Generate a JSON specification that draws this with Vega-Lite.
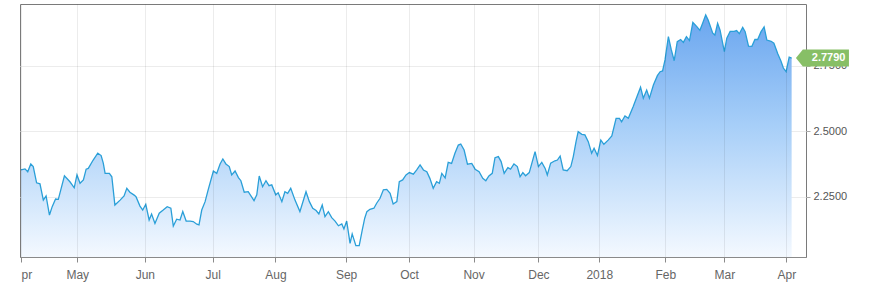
{
  "$schema": "https://vega.github.io/schema/vega-lite/v6.json",
  "width": 786,
  "height": 253,
  "autosize": {"type": "none"},
  "padding": {"left": 20, "top": 4, "right": 73, "bottom": 37},
  "background": "#ffffff",
  "config": {
    "view": {"stroke": "#7a7a7a", "strokeWidth": 1},
    "font": "Liberation Sans"
  },
  "datasets": {
    "yield": [
      {"t":0.0,"v":2.352},{"t":1.3,"v":2.356},{"t":2.2,"v":2.345},{"t":3.2,"v":2.375},{"t":4.0,"v":2.365},{"t":5.1,"v":2.303},{"t":6.2,"v":2.299},{"t":7.3,"v":2.237},{"t":8.2,"v":2.253},{"t":9.3,"v":2.180},{"t":10.2,"v":2.212},{"t":11.3,"v":2.241},{"t":12.2,"v":2.240},{"t":14.2,"v":2.330},{"t":16.0,"v":2.307},{"t":17.4,"v":2.284},{"t":18.3,"v":2.333},{"t":19.3,"v":2.301},{"t":20.4,"v":2.314},{"t":21.3,"v":2.355},{"t":22.0,"v":2.358},{"t":23.6,"v":2.390},{"t":25.1,"v":2.416},{"t":26.2,"v":2.407},{"t":26.9,"v":2.378},{"t":27.5,"v":2.339},{"t":28.9,"v":2.339},{"t":29.7,"v":2.326},{"t":30.7,"v":2.218},{"t":32.4,"v":2.237},{"t":33.7,"v":2.253},{"t":34.6,"v":2.282},{"t":35.6,"v":2.267},{"t":37.0,"v":2.256},{"t":37.6,"v":2.250},{"t":38.9,"v":2.214},{"t":39.8,"v":2.199},{"t":40.8,"v":2.221},{"t":41.9,"v":2.161},{"t":42.7,"v":2.184},{"t":43.8,"v":2.148},{"t":45.2,"v":2.187},{"t":46.5,"v":2.199},{"t":47.8,"v":2.212},{"t":49.0,"v":2.206},{"t":49.8,"v":2.138},{"t":50.9,"v":2.164},{"t":52.0,"v":2.161},{"t":52.9,"v":2.193},{"t":54.0,"v":2.157},{"t":55.3,"v":2.157},{"t":56.3,"v":2.155},{"t":57.5,"v":2.145},{"t":58.2,"v":2.142},{"t":59.1,"v":2.199},{"t":60.2,"v":2.231},{"t":61.2,"v":2.276},{"t":62.9,"v":2.348},{"t":64.0,"v":2.339},{"t":65.1,"v":2.375},{"t":66.0,"v":2.394},{"t":67.0,"v":2.375},{"t":68.1,"v":2.365},{"t":68.9,"v":2.333},{"t":70.0,"v":2.348},{"t":71.1,"v":2.323},{"t":71.9,"v":2.311},{"t":73.0,"v":2.267},{"t":74.3,"v":2.269},{"t":76.2,"v":2.235},{"t":77.1,"v":2.257},{"t":77.9,"v":2.329},{"t":79.0,"v":2.288},{"t":80.1,"v":2.311},{"t":81.1,"v":2.292},{"t":82.0,"v":2.295},{"t":83.3,"v":2.257},{"t":84.1,"v":2.265},{"t":85.3,"v":2.231},{"t":86.3,"v":2.269},{"t":87.2,"v":2.263},{"t":88.2,"v":2.282},{"t":89.6,"v":2.237},{"t":91.2,"v":2.193},{"t":93.2,"v":2.269},{"t":94.3,"v":2.231},{"t":95.4,"v":2.206},{"t":96.5,"v":2.197},{"t":97.4,"v":2.184},{"t":98.5,"v":2.218},{"t":99.4,"v":2.174},{"t":100.5,"v":2.193},{"t":101.6,"v":2.170},{"t":102.7,"v":2.157},{"t":103.8,"v":2.139},{"t":104.9,"v":2.146},{"t":105.6,"v":2.127},{"t":106.5,"v":2.157},{"t":107.6,"v":2.072},{"t":108.3,"v":2.108},{"t":109.5,"v":2.063},{"t":110.6,"v":2.063},{"t":111.6,"v":2.123},{"t":112.4,"v":2.168},{"t":113.1,"v":2.193},{"t":114.1,"v":2.202},{"t":115.4,"v":2.206},{"t":116.3,"v":2.225},{"t":117.4,"v":2.244},{"t":118.5,"v":2.276},{"t":119.6,"v":2.278},{"t":120.7,"v":2.263},{"t":121.7,"v":2.222},{"t":122.9,"v":2.231},{"t":123.7,"v":2.307},{"t":124.8,"v":2.314},{"t":125.9,"v":2.333},{"t":127.0,"v":2.342},{"t":128.3,"v":2.336},{"t":129.4,"v":2.352},{"t":130.5,"v":2.371},{"t":131.6,"v":2.352},{"t":132.7,"v":2.345},{"t":133.7,"v":2.320},{"t":134.8,"v":2.282},{"t":135.9,"v":2.307},{"t":136.8,"v":2.301},{"t":137.6,"v":2.339},{"t":138.7,"v":2.322},{"t":139.7,"v":2.381},{"t":140.8,"v":2.377},{"t":141.9,"v":2.416},{"t":143.0,"v":2.447},{"t":143.8,"v":2.451},{"t":144.9,"v":2.428},{"t":146.0,"v":2.374},{"t":147.4,"v":2.377},{"t":148.5,"v":2.355},{"t":149.8,"v":2.345},{"t":151.0,"v":2.320},{"t":152.0,"v":2.311},{"t":153.0,"v":2.329},{"t":154.1,"v":2.339},{"t":155.0,"v":2.399},{"t":156.1,"v":2.403},{"t":157.0,"v":2.384},{"t":158.0,"v":2.339},{"t":159.2,"v":2.361},{"t":160.1,"v":2.355},{"t":161.2,"v":2.375},{"t":162.3,"v":2.365},{"t":163.2,"v":2.326},{"t":164.1,"v":2.342},{"t":165.0,"v":2.330},{"t":166.2,"v":2.342},{"t":168.1,"v":2.422},{"t":169.2,"v":2.365},{"t":170.3,"v":2.381},{"t":171.4,"v":2.358},{"t":172.1,"v":2.333},{"t":173.2,"v":2.378},{"t":174.6,"v":2.387},{"t":175.4,"v":2.390},{"t":176.3,"v":2.405},{"t":177.3,"v":2.352},{"t":178.6,"v":2.349},{"t":179.8,"v":2.365},{"t":180.6,"v":2.403},{"t":181.5,"v":2.460},{"t":182.2,"v":2.498},{"t":183.4,"v":2.488},{"t":184.4,"v":2.486},{"t":185.5,"v":2.460},{"t":186.6,"v":2.416},{"t":187.4,"v":2.435},{"t":188.5,"v":2.407},{"t":189.6,"v":2.466},{"t":190.6,"v":2.450},{"t":192.0,"v":2.466},{"t":193.2,"v":2.482},{"t":194.6,"v":2.549},{"t":195.7,"v":2.549},{"t":196.4,"v":2.536},{"t":197.5,"v":2.558},{"t":198.6,"v":2.549},{"t":200.2,"v":2.594},{"t":201.5,"v":2.634},{"t":202.6,"v":2.668},{"t":203.5,"v":2.626},{"t":204.6,"v":2.657},{"t":205.5,"v":2.626},{"t":206.8,"v":2.676},{"t":208.1,"v":2.712},{"t":209.0,"v":2.727},{"t":209.8,"v":2.730},{"t":210.6,"v":2.772},{"t":211.7,"v":2.861},{"t":212.6,"v":2.813},{"t":213.6,"v":2.769},{"t":214.6,"v":2.842},{"t":215.7,"v":2.850},{"t":216.6,"v":2.839},{"t":217.6,"v":2.861},{"t":218.6,"v":2.846},{"t":219.7,"v":2.915},{"t":221.0,"v":2.899},{"t":222.0,"v":2.885},{"t":222.9,"v":2.912},{"t":223.9,"v":2.944},{"t":224.7,"v":2.924},{"t":226.2,"v":2.874},{"t":226.9,"v":2.867},{"t":227.8,"v":2.912},{"t":228.6,"v":2.886},{"t":230.0,"v":2.804},{"t":230.8,"v":2.855},{"t":231.9,"v":2.881},{"t":233.2,"v":2.881},{"t":234.0,"v":2.884},{"t":234.9,"v":2.872},{"t":236.0,"v":2.896},{"t":236.8,"v":2.880},{"t":237.9,"v":2.825},{"t":239.0,"v":2.824},{"t":240.0,"v":2.850},{"t":240.9,"v":2.850},{"t":242.0,"v":2.880},{"t":243.0,"v":2.898},{"t":243.9,"v":2.848},{"t":245.3,"v":2.843},{"t":246.2,"v":2.836},{"t":247.5,"v":2.795},{"t":248.5,"v":2.768},{"t":249.3,"v":2.741},{"t":250.2,"v":2.727},{"t":251.2,"v":2.783},{"t":252.0,"v":2.779}
    ],
    "last": [{"t": 252.0, "v": 2.779, "lbl": "2.7790"}]
  },
  "encoding": {
    "x": {
      "field": "t",
      "type": "quantitative",
      "scale": {"domain": [-0.33, 256.7], "nice": false, "zero": false},
      "axis": {
        "title": null,
        "values": [0, 18.4, 40.5, 62.7, 83.2, 106.3, 126.9, 148, 169.2, 189.1, 210.7, 230, 250.3],
        "labelExpr": "datum.value == 0 ? 'pr' : datum.value == 18.4 ? 'May' : datum.value == 40.5 ? 'Jun' : datum.value == 62.7 ? 'Jul' : datum.value == 83.2 ? 'Aug' : datum.value == 106.3 ? 'Sep' : datum.value == 126.9 ? 'Oct' : datum.value == 148 ? 'Nov' : datum.value == 169.2 ? 'Dec' : datum.value == 189.1 ? '2018' : datum.value == 210.7 ? 'Feb' : datum.value == 230 ? 'Mar' : 'Apr'",
        "labelAlign": {"condition": {"test": "datum.value == 0", "value": "left"}, "value": "center"},
        "labelOverlap": false,
        "labelFlush": false,
        "labelFont": "Liberation Sans",
        "labelFontSize": 12,
        "labelColor": "#666666",
        "labelPadding": 7,
        "tickSize": 5,
        "tickColor": "#8a8a8a",
        "domainColor": "#8a8a8a",
        "grid": true,
        "gridColor": "#000000",
        "gridOpacity": 0.075,
        "zindex": 1
      }
    },
    "y": {
      "field": "v",
      "type": "quantitative",
      "scale": {"domain": [2.0198, 2.9855], "nice": false, "zero": false},
      "axis": {
        "title": null,
        "orient": "right",
        "values": [2.25, 2.5, 2.75],
        "format": ".4f",
        "labelFont": "Liberation Sans",
        "labelFontSize": 11,
        "labelColor": "#555555",
        "labelPadding": 3,
        "tickSize": 4,
        "tickColor": "#aaaaaa",
        "domain": false,
        "grid": true,
        "gridColor": "#ececec",
        "zindex": 0
      }
    }
  },
  "layer": [
    {
      "data": {"name": "yield"},
      "mark": {
        "type": "area",
        "clip": true,
        "color": {
          "gradient": "linear",
          "x1": 0, "y1": 0, "x2": 0, "y2": 1,
          "stops": [
            {"offset": 0, "color": "#6aa6ef"},
            {"offset": 0.45, "color": "#a6cef8"},
            {"offset": 1, "color": "#f4f9ff"}
          ]
        }
      },
      "encoding": {"y2": {"datum": 2.0198}}
    },
    {
      "data": {"name": "yield"},
      "mark": {"type": "line", "clip": true, "color": "#2a9fd8", "strokeWidth": 1.3}
    },
    {
      "data": {"name": "last"},
      "mark": {
        "type": "point",
        "filled": true,
        "opacity": 1,
        "color": "#87bf66",
        "shape": "M-1,0 L-0.74,-0.32 L1,-0.32 L1,0.32 L-0.74,0.32 Z",
        "size": 2809,
        "xOffset": 30.8,
        "clip": false
      }
    },
    {
      "data": {"name": "last"},
      "mark": {
        "type": "text",
        "color": "#ffffff",
        "font": "Liberation Sans",
        "fontSize": 11,
        "fontWeight": "bold",
        "align": "center",
        "baseline": "middle",
        "xOffset": 37,
        "clip": false
      },
      "encoding": {"text": {"field": "lbl"}}
    }
  ]
}
